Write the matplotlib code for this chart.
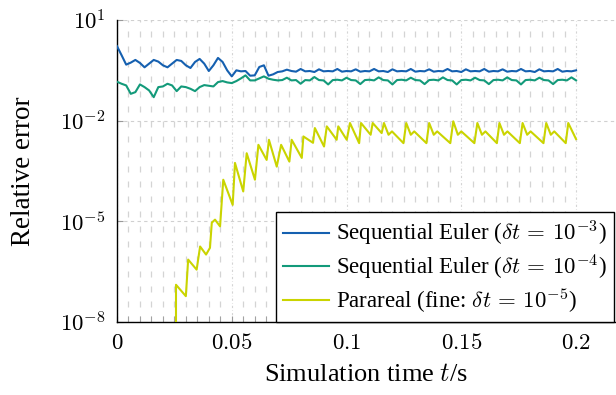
import numpy as np
import matplotlib
matplotlib.use("Agg")
import matplotlib.pyplot as plt
from matplotlib.ticker import FixedLocator, FixedFormatter, NullFormatter

# ---------------- data (log10 of relative error) ----------------
# Sequential Euler dt=1e-3, sampled every 0.002 s
t_seq = [round(0.002 * i, 3) for i in range(101)]
blue_log = [
    0.22, -0.05, -0.33, -0.27, -0.19, -0.28, -0.41, -0.30, -0.19, -0.24,
    -0.35, -0.41, -0.30, -0.19, -0.22, -0.35, -0.43, -0.25, -0.16, -0.30,
    -0.52, -0.35, -0.13, -0.25, -0.50, -0.68, -0.50, -0.53, -0.52, -0.66,
    -0.65, -0.40, -0.35, -0.66, -0.62, -0.55, -0.53, -0.48, -0.52, -0.54,
    -0.46, -0.53, -0.52, -0.55, -0.47, -0.53, -0.52, -0.53, -0.46, -0.54,
    -0.52, -0.53, -0.47, -0.54, -0.52, -0.53, -0.46, -0.53, -0.52, -0.55,
    -0.47, -0.53, -0.52, -0.53, -0.46, -0.54, -0.52, -0.53, -0.47, -0.54,
    -0.52, -0.53, -0.46, -0.53, -0.52, -0.55, -0.47, -0.53, -0.52, -0.53,
    -0.46, -0.54, -0.52, -0.53, -0.47, -0.54, -0.52, -0.53, -0.46, -0.53,
    -0.52, -0.55, -0.47, -0.53, -0.52, -0.53, -0.46, -0.54, -0.52, -0.53,
    -0.50,
]
# Sequential Euler dt=1e-4, sampled every 0.002 s
green_log = [
    -0.84, -0.90, -0.95, -1.20, -1.15, -0.92, -1.00, -1.10, -1.30, -1.00,
    -0.98, -0.90, -0.95, -1.12, -0.98, -1.00, -1.05, -1.12, -1.00, -0.94,
    -0.96, -0.98, -0.85, -0.82, -0.86, -0.88, -0.82, -0.74, -0.65, -0.80,
    -0.80, -0.74, -0.68, -0.75, -0.78, -0.80, -0.79, -0.72, -0.80, -0.79,
    -0.90, -0.79, -0.80, -0.70, -0.79, -0.80, -0.92, -0.79, -0.78, -0.80,
    -0.72, -0.79, -0.80, -0.91, -0.79, -0.78, -0.80, -0.71, -0.79, -0.80,
    -0.92, -0.79, -0.78, -0.80, -0.72, -0.79, -0.80, -0.91, -0.79, -0.78,
    -0.80, -0.71, -0.79, -0.80, -0.92, -0.79, -0.78, -0.80, -0.72, -0.79,
    -0.80, -0.91, -0.79, -0.78, -0.80, -0.71, -0.79, -0.80, -0.92, -0.79,
    -0.78, -0.80, -0.72, -0.79, -0.80, -0.91, -0.79, -0.78, -0.80, -0.71,
    -0.80,
]
# Parareal (fine dt=1e-5): vertices of the sawtooth
t_par = [
    0.0257, 0.0257, 0.0300, 0.0310, 0.0347, 0.0362, 0.0388, 0.0405, 0.0413, 0.0427,
    0.0449, 0.0463, 0.0504, 0.0514, 0.0550, 0.0565, 0.0601, 0.0616, 0.0652, 0.0662,
    0.0696, 0.0715, 0.0751, 0.0761, 0.0805, 0.0812, 0.0854, 0.0862, 0.0902, 0.0914,
    0.0957, 0.0964, 0.1001, 0.1015, 0.1055, 0.1063, 0.1105, 0.1114, 0.1153, 0.1163,
    0.1183, 0.1198, 0.1248, 0.1260, 0.1280, 0.1295, 0.1348, 0.1360, 0.1380, 0.1395,
    0.1452, 0.1465, 0.1485, 0.1500, 0.1557, 0.1570, 0.1590, 0.1605, 0.1655, 0.1666,
    0.1686, 0.1701, 0.1755, 0.1767, 0.1787, 0.1802, 0.1858, 0.1870, 0.1890, 0.1905,
    0.1955, 0.1966, 0.2000,
]
yellow_log = [
    -9.00, -6.89, -7.23, -6.14, -6.44, -5.75, -5.99, -5.79, -5.04, -4.95,
    -5.15, -3.76, -4.51, -3.26, -4.11, -2.97, -3.76, -2.72, -3.17, -2.57,
    -3.37, -2.72, -3.22, -2.57, -3.11, -2.47, -2.66, -2.22, -2.77, -2.17,
    -2.57, -2.17, -2.57, -2.07, -2.67, -2.07, -2.42, -2.07, -2.37, -2.07,
    -2.42, -2.32, -2.67, -2.07, -2.42, -2.32, -2.67, -2.07, -2.42, -2.32,
    -2.67, -2.02, -2.42, -2.32, -2.67, -2.07, -2.42, -2.32, -2.67, -2.07,
    -2.42, -2.32, -2.67, -2.07, -2.42, -2.32, -2.67, -2.07, -2.42, -2.32,
    -2.67, -2.07, -2.55,
]

labels = [
    r"Sequential Euler ($\delta t \,=\, 10^{-3}$)",
    r"Sequential Euler ($\delta t \,=\, 10^{-4}$)",
    r"Parareal (fine: $\delta t \,=\, 10^{-5}$)",
]
colors = ["#1560b0", "#139a7a", "#cad400"]

x_major = [0, 0.05, 0.1, 0.15, 0.2]
x_major_labels = ["$0$", "$0.05$", "$0.1$", "$0.15$", "$0.2$"]
y_major = [1e1, 1e-2, 1e-5, 1e-8]
y_major_labels = ["$10^{1}$", "$10^{-2}$", "$10^{-5}$", "$10^{-8}$"]

# ---------------- plotting ----------------
plt.rcParams["font.family"] = ["Liberation Serif", "DejaVu Serif"]
plt.rcParams["mathtext.fontset"] = "cm"

fig = plt.figure(figsize=(6.16, 3.95), dpi=100)
ax = fig.add_axes([117 / 616, 73 / 395, 1 - 117 / 616, (322 - 20) / 395])

ax.semilogy(t_seq, 10 ** np.array(blue_log), color=colors[0], lw=1.5, label=labels[0], zorder=3)
ax.semilogy(t_seq, 10 ** np.array(green_log), color=colors[1], lw=1.5, label=labels[1], zorder=3)
ax.semilogy(t_par, 10 ** np.array(yellow_log), color=colors[2], lw=1.5, label=labels[2], zorder=3)

ax.set_xlim(0, 0.2174)
ax.set_ylim(1e-8, 1e1)

ax.xaxis.set_major_locator(FixedLocator(x_major))
ax.xaxis.set_major_formatter(FixedFormatter(x_major_labels))
minor_x = [round(0.005 * i, 3) for i in range(41) if i % 10 != 0]
ax.xaxis.set_minor_locator(FixedLocator(minor_x))
ax.xaxis.set_minor_formatter(NullFormatter())
ax.yaxis.set_major_locator(FixedLocator(y_major))
ax.yaxis.set_major_formatter(FixedFormatter(y_major_labels))
ax.yaxis.set_minor_locator(FixedLocator([]))

ax.tick_params(axis="both", which="major", direction="in", length=4, width=0.8,
               color="#999999", labelsize=16.5, pad=8)
ax.tick_params(axis="x", which="minor", direction="in", length=4, width=0.6, color="#999999")

ax.grid(True, axis="x", which="minor", color="#d4d4d4", lw=0.9, dashes=(4.8, 7.2))
ax.grid(True, axis="x", which="major", color="#d4d4d4", lw=0.8, dashes=(2, 2, 0.5, 2))
ax.grid(True, axis="y", which="major", color="#d0d0d0", lw=0.8, dashes=(3, 3))

for s in ["top", "right"]:
    ax.spines[s].set_visible(False)
for s in ["left", "bottom"]:
    ax.spines[s].set_linewidth(1.0)
    ax.spines[s].set_color("black")

ax.set_xlabel(r"Simulation time $t$/s", fontsize=19, labelpad=7)
ax.set_ylabel("Relative error", fontsize=19.5)
ax.yaxis.set_label_coords(-0.162, 0.5)

leg = ax.legend(loc="lower right", bbox_to_anchor=(0.996, 0.0), fontsize=16.5,
                frameon=True, fancybox=False, edgecolor="black", framealpha=1,
                borderaxespad=0, handlelength=2.0, handletextpad=0.3,
                labelspacing=0.18, borderpad=0.32)
leg.get_frame().set_linewidth(1.0)

fig.savefig("out.png", dpi=100)
